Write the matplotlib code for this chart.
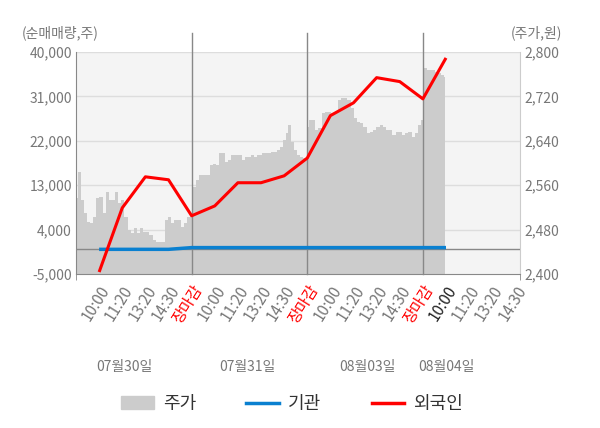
import matplotlib
matplotlib.use('Agg')
import matplotlib.pyplot as plt
import numpy as np
from matplotlib.patches import Patch
from matplotlib.lines import Line2D

plt.rcParams['font.family'] = ['Noto Sans CJK KR', 'DejaVu Sans']

# 주가 (원) - 날짜별 흐름, 그림에서 읽은 값
price_d1 = [2537, 2584, 2533, 2510, 2494, 2492, 2503, 2537, 2539, 2510, 2548, 2533, 2533,
            2548, 2528, 2533, 2503, 2479, 2474, 2483, 2474, 2483, 2476, 2476, 2470, 2461,
            2458, 2458, 2458, 2497, 2503, 2492, 2497, 2497, 2485, 2492, 2503, 2503]
price_d2 = [2545, 2557, 2569, 2578, 2578, 2578, 2578, 2596, 2598, 2596, 2618, 2618, 2602,
            2605, 2614, 2614, 2614, 2614, 2605, 2611, 2611, 2614, 2611, 2614, 2614, 2618,
            2618, 2618, 2620, 2620, 2623, 2629, 2641, 2654, 2668, 2638, 2623, 2614, 2611,
            2609, 2605]
price_d3 = [2665, 2678, 2678, 2659, 2663, 2690, 2692, 2692, 2690, 2690, 2714, 2717, 2717,
            2714, 2699, 2681, 2674, 2672, 2665, 2654, 2656, 2659, 2665, 2668, 2665, 2659,
            2659, 2650, 2656, 2656, 2650, 2654, 2656, 2647, 2654, 2668, 2678]
price_d4 = [2782, 2771, 2768, 2768, 2768, 2764, 2762, 2759, 2755]
day4_span = 0.96  # 넷째 날은 10:00 무렵까지만

# 순매매량 (주) - 시간대별 누적
flow_x = np.arange(1, 17)
foreign = [-4600, 8400, 14700, 14100, 6800, 8800, 13500, 13500, 14900, 18500,
           27100, 29700, 34800, 34000, 30500, 38800]
inst = [0, 0, 0, 0, 350, 350, 350, 350, 350, 350, 350, 350, 350, 350, 350, 350]

time_labels = ['10:00', '11:20', '13:20', '14:30', '장마감'] * 3 + ['10:00', '11:20', '13:20', '14:30']
date_labels = ['07월30일', '07월31일', '08월03일', '08월04일']
date_pos = [2.1, 7.4, 12.6, 16.0]

gray_txt = '#777777'

fig = plt.figure(figsize=(6, 4.28), dpi=100)
ax = fig.add_axes([76 / 600, 1 - 274 / 428, 444 / 600, 222 / 428])
ax.set_facecolor('#f4f4f4')

# 주가 영역
for d, vals in enumerate([price_d1, price_d2, price_d3]):
    xs = np.linspace(d * 5, d * 5 + 5, len(vals))
    ax.fill_between(xs, 2400, vals, step='mid', color='#cccccc', lw=0)
xs4 = np.linspace(15, 15 + day4_span, len(price_d4))
ax.fill_between(xs4, 2400, price_d4, step='mid', color='#cccccc', lw=0)

ax.set_xlim(0, 19.2)
ax.set_ylim(2400, 2800)
for v in range(2480, 2801, 80):
    ax.axhline(v, color='#dddddd', lw=1, zorder=0.5)

# 날짜 구분선
for xv in [5, 10, 15]:
    ax.plot([xv, xv], [2400, 2835], color='#888888', lw=1, clip_on=False, zorder=1)

ax2 = ax.twinx()
# twinx가 원래 축을 왼쪽으로 돌려놓으니 다시 바꿔줌
ax.yaxis.tick_right()
ax.set_yticks(np.arange(2400, 2801, 80))
ax.set_yticklabels([f'{v:,}' for v in range(2400, 2801, 80)])
ax2.yaxis.tick_left()
ax2.set_ylim(-5000, 40000)
ax2.set_yticks([-5000, 4000, 13000, 22000, 31000, 40000])
ax2.set_yticklabels([f'{v:,}' for v in [-5000, 4000, 13000, 22000, 31000, 40000]])
ax2.axhline(0, color='#888888', lw=1)
ax2.plot(flow_x, inst, color='#0a80d0', lw=2.5, solid_capstyle='butt')
ax2.plot(flow_x, foreign, color='#ff0000', lw=2.2, solid_capstyle='butt')

for a in (ax, ax2):
    for s in a.spines.values():
        s.set_visible(False)
    a.tick_params(axis='y', length=0, labelsize=10, labelcolor=gray_txt, pad=3)

ax.spines['left'].set_visible(True)
ax.spines['left'].set_color('#888888')
ax.spines['bottom'].set_visible(True)
ax.spines['bottom'].set_color('#888888')
ax.spines['right'].set_visible(True)
ax.spines['right'].set_color('#cccccc')

ax.set_xticks(np.arange(1, 20))
ax.set_xticklabels(time_labels)
ax.set_xticks([0, 5, 10, 15, 19.2], minor=True)
ax.tick_params(axis='x', which='major', length=0, labelsize=11, labelcolor=gray_txt, pad=6)
ax.tick_params(axis='x', which='minor', length=4, color='#888888')
for i, lab in enumerate(ax.get_xticklabels()):
    lab.set_rotation(58)
    lab.set_ha('right')
    lab.set_va('top')
    lab.set_rotation_mode('anchor')
    if lab.get_text() == '장마감':
        lab.set_color('#ff0000')
    elif i == 15:
        lab.set_color('#222222')

for pos, txt in zip(date_pos, date_labels):
    ax.text(pos, -0.42, txt, transform=ax.get_xaxis_transform(), ha='center', va='center',
            fontsize=10, color=gray_txt)

fig.text(22 / 600, 1 - 33 / 428, '(순매매량,주)', fontsize=10, color=gray_txt, va='center')
fig.text(562 / 600, 1 - 33 / 428, '(주가,원)', fontsize=10, color=gray_txt, va='center', ha='right')

handles = [Patch(color='#cccccc'), Line2D([], [], color='#0a80d0', lw=2.5),
           Line2D([], [], color='#ff0000', lw=2.5)]
fig.legend(handles, ['주가', '기관', '외국인'], loc='center', bbox_to_anchor=(0.487, 1 - 404 / 428),
           ncol=3, frameon=False, fontsize=13, columnspacing=2.8, handlelength=1.8,
           handletextpad=0.5, labelcolor='#333333')

fig.savefig('out.png', dpi=100)
